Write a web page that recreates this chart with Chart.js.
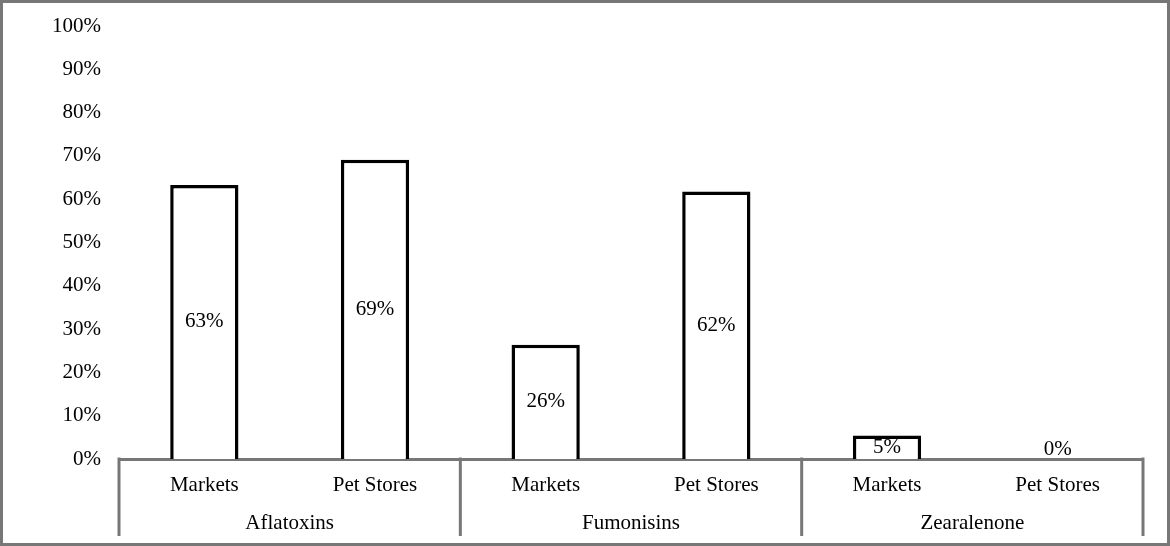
<!DOCTYPE html>
<html>
<head>
<meta charset="utf-8">
<script src="https://cdn.jsdelivr.net/npm/chart.js@4/dist/chart.umd.min.js"></script>
<style>
  html, body { margin: 0; padding: 0; background: #fff; }
  canvas { display: block; }
</style>
</head>
<body>
<canvas id="c" width="1170" height="546"></canvas>
<script>
const categories = ['Markets', 'Pet Stores', 'Markets', 'Pet Stores', 'Markets', 'Pet Stores'];
const groups = ['Aflatoxins', 'Fumonisins', 'Zearalenone'];
const values = [63.3, 69.1, 26.4, 61.8, 5.4, 0];
const yTicks = [0, 10, 20, 30, 40, 50, 60, 70, 80, 90, 100];

const FONT = { family: '"Liberation Serif", "Times New Roman", serif', size: 21 };
const GRAY = '#777777';

const framePlugin = {
  id: 'frame',
  beforeDraw(chart) {
    const ctx = chart.ctx;
    ctx.save();
    ctx.fillStyle = '#ffffff';
    ctx.fillRect(0, 0, chart.width, chart.height);
    ctx.restore();
  },
  afterDraw(chart) {
    const ctx = chart.ctx;
    const x = chart.scales.x;
    const area = chart.chartArea;
    ctx.save();
    ctx.strokeStyle = GRAY;
    ctx.lineWidth = 3;
    const bounds = [area.left];
    for (let g = 1; g < groups.length; g++) {
      const i = g * 2;
      bounds.push((x.getPixelForValue(i - 1) + x.getPixelForValue(i)) / 2);
    }
    bounds.push(area.right);
    bounds.forEach(bx => {
      ctx.beginPath();
      ctx.moveTo(bx, area.bottom - 1.5);
      ctx.lineTo(bx, 536);
      ctx.stroke();
    });
    ctx.strokeRect(1.5, 1.5, chart.width - 3, chart.height - 3);
    ctx.restore();
  }
};

const labelPlugin = {
  id: 'barLabels',
  afterDatasetsDraw(chart) {
    const ctx = chart.ctx;
    const meta = chart.getDatasetMeta(0);
    ctx.save();
    ctx.font = FONT.size + 'px ' + FONT.family;
    ctx.fillStyle = '#000';
    ctx.textAlign = 'center';
    ctx.textBaseline = 'middle';
    meta.data.forEach((el, i) => {
      const center = (el.y + el.base) / 2;
      const y = Math.min(center, el.base - 10);
      ctx.fillText(Math.round(values[i]) + '%', el.x, y);
    });
    ctx.restore();
  }
};

new Chart(document.getElementById('c'), {
  type: 'bar',
  data: {
    labels: categories,
    datasets: [{
      data: values,
      backgroundColor: '#ffffff',
      borderColor: '#000000',
      borderWidth: 3.5,
      categoryPercentage: 1,
      barPercentage: 0.4,
      xAxisID: 'x',
      yAxisID: 'y'
    }]
  },
  options: {
    responsive: false,
    animation: false,
    devicePixelRatio: 1,
    layout: { padding: { top: 26, right: 27, bottom: 0, left: 0 } },
    plugins: { legend: { display: false }, tooltip: { enabled: false } },
    scales: {
      y: {
        min: 0, max: 100,
        afterBuildTicks(scale) { scale.ticks = yTicks.map(v => ({ value: v })); },
        afterFit(scale) { scale.width = 119; scale.paddingTop = 0; scale.paddingBottom = 0; },
        grid: { display: false, drawTicks: false },
        border: { display: false },
        ticks: { font: FONT, color: '#000', padding: 18, callback: v => v + '%' }
      },
      x: {
        position: 'bottom',
        afterFit(scale) { scale.height = 38; scale.paddingLeft = 0; scale.paddingRight = 0; },
        grid: { display: false, drawTicks: false },
        border: { display: true, color: GRAY, width: 3 },
        ticks: { font: FONT, color: '#000', padding: 14, maxRotation: 0, autoSkip: false }
      },
      x2: {
        type: 'category',
        position: 'bottom',
        labels: groups,
        offset: true,
        afterFit(scale) { scale.height = 49; scale.paddingLeft = 0; scale.paddingRight = 0; },
        grid: { display: false, drawTicks: false },
        border: { display: false },
        ticks: { font: FONT, color: '#000', padding: 14, maxRotation: 0, autoSkip: false }
      }
    }
  },
  plugins: [framePlugin, labelPlugin]
});
</script>
</body>
</html>
